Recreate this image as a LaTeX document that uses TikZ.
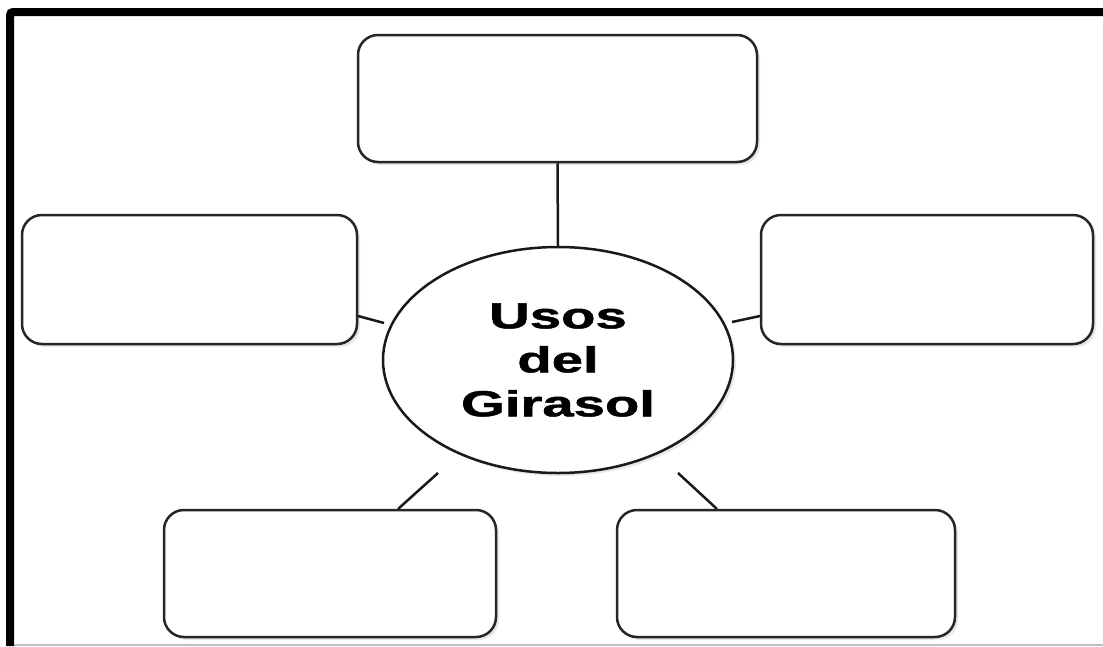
\documentclass[tikz,border=0pt]{standalone}
\usepackage{fontspec}
\usepackage{graphicx}
\setmainfont{Liberation Sans}
\newfontfamily\hubfont[FakeBold=1.2]{Liberation Sans Bold}
\usetikzlibrary{shapes.geometric,shadows}
\begin{document}
\begin{tikzpicture}[x=1pt,y=-1pt,
  box/.style={draw=black!85, line width=2.5pt, fill=white, rounded corners=20pt,
    inner sep=0pt, drop shadow={opacity=0.18, shadow xshift=3pt, shadow yshift=-3pt}},
  hub/.style={ellipse, draw=black!90, line width=2.5pt, fill=white, inner sep=0pt,
    minimum width=350pt, minimum height=226pt,
    drop shadow={opacity=0.18, shadow xshift=3pt, shadow yshift=-3pt},
    font=\hubfont\fontsize{36.3pt}{44pt}\selectfont, align=center},
  link/.style={draw=black!90, line width=2.5pt}
]
\useasboundingbox (0,0) rectangle (1103,646);
\fill[white] (0,0) rectangle (1103,646);
% frame
\draw[line width=8pt, rounded corners=3pt] (10,646) -- (10,12) -- (1103,12);
\draw[black!25, line width=1.2pt] (14,645) -- (1103,645);
% boxes
\node[box, minimum width=399pt, minimum height=127pt] (T) at (557.5,98.5) {};
\node[box, minimum width=335pt, minimum height=129pt] (L) at (189.5,279.5) {};
\node[box, minimum width=332pt, minimum height=129pt] (R) at (927,279.5) {};
\node[box, minimum width=332pt, minimum height=127pt] (BL) at (330,573.5) {};
\node[box, minimum width=338pt, minimum height=127pt] (BR) at (786,573.5) {};
% hub
\node[hub] (C) at (558,360) {\scalebox{1.55}[1]{Usos}\\\scalebox{1.55}[1]{del}\\\scalebox{1.55}[1]{Girasol}};
% connector ends
\coordinate (l1) at (358,316);
\coordinate (l2) at (384,323);
\coordinate (r1) at (760,316);
\coordinate (r2) at (732,322);
\coordinate (bl1) at (438,473);
\coordinate (bl2) at (398,509);
\coordinate (br1) at (678,473);
\coordinate (br2) at (717,509);
% connectors
\draw[link] (T.south) -- (C.north);
\draw[link] (l1) -- (l2);
\draw[link] (r1) -- (r2);
\draw[link] (bl1) -- (bl2);
\draw[link] (br1) -- (br2);
\end{tikzpicture}
\end{document}
